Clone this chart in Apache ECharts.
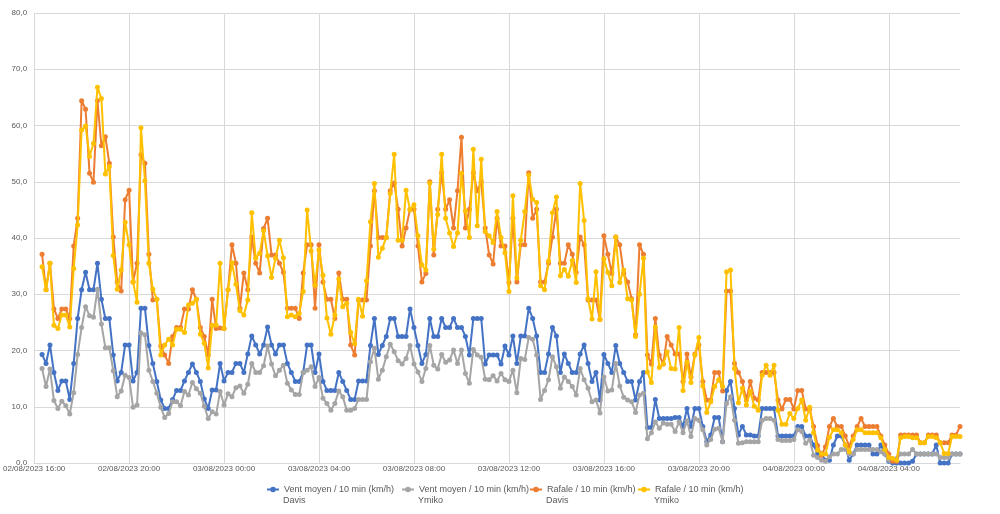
<!DOCTYPE html>
<html><head><meta charset="utf-8">
<script src="https://cdn.jsdelivr.net/npm/echarts@6/dist/echarts.min.js"></script>
<style>html,body{margin:0;padding:0;background:#fff}#c{width:1000px;height:514px}</style>
</head><body><div id="c"></div>
<script>
// Time axis: 10-minute categories from 02/08/2023 16:00 to 04/08/2023 07:00
const categoryCount = 235;
const firstDataIndex = 2; // first measurement at 16:20
const seriesNames = [
  'Vent moyen / 10 min (km/h)\nDavis',
  'Vent moyen / 10 min (km/h)\nYmiko',
  'Rafale / 10 min (km/h)\nDavis',
  'Rafale / 10 min (km/h)\nYmiko'
];
const seriesColors = ['#4472C4', '#A5A5A5', '#ED7D31', '#FFC000'];
const yTicks = [0, 10, 20, 30, 40, 50, 60, 70, 80];

const ventDavis = [
  19.3,17.7,21.0,16.1,12.9,14.6,14.6,11.3,17.7,25.7,30.8,33.9,30.8,30.8,35.5,29.1,25.7,25.7,
  19.2,14.6,16.1,21.0,21.0,14.6,16.1,27.5,27.5,20.9,17.7,14.5,11.2,9.7,9.7,11.3,12.9,12.9,14.6,16.1,
  17.6,16.1,14.5,11.4,9.7,13.0,13.0,17.7,14.6,16.1,16.1,17.7,17.7,16.1,19.4,22.6,21.0,19.4,21.0,
  24.2,21.0,19.4,21.0,21.0,17.7,16.1,14.5,14.5,16.1,21.0,21.0,16.1,19.4,14.5,12.9,12.9,12.9,16.1,14.5,12.9,11.3,
  11.3,14.6,14.6,14.6,
  20.9,25.7,19.3,20.9,22.5,25.7,25.7,22.5,22.5,22.5,27.4,24.1,20.9,17.7,19.3,25.7,
  22.5,22.5,25.7,24.1,24.1,25.7,24.1,24.1,22.5,19.2,25.7,25.7,25.7,17.6,19.2,19.2,19.2,17.6,20.8,19.2,
  22.6,17.7,22.6,22.6,27.5,25.7,22.6,16.1,16.1,19.4,24.1,22.6,16.1,19.4,17.7,16.1,16.1,19.4,21.0,17.7,
  14.5,16.1,11.2,19.3,17.7,16.1,20.9,17.7,16.1,14.5,14.5,11.2,14.5,16.1,6.3,6.3,11.3,7.9,7.9,7.9,7.9,
  8.1,8.1,6.5,9.7,6.5,9.7,9.7,6.5,3.8,5.0,8.1,8.1,3.8,12.9,14.5,9.7,5.0,6.5,5.0,5.0,
  4.8,4.8,9.7,9.7,9.7,9.7,4.8,4.8,4.8,4.8,4.8,6.5,6.5,4.8,4.8,3.2,1.6,1.6,0.5,0.5,
  3.2,4.8,4.8,3.2,0.5,1.6,3.2,3.2,3.2,3.2,1.6,1.6,3.2,1.6,0.3,0,0,
  0,0,0,0.3,1.6,1.6,1.6,1.6,1.6,3.2,0,0,0,1.6,1.6,1.6
];
const ventYmiko = [
  16.8,13.6,16.7,11.1,9.7,11.0,10.2,8.7,12.5,19.3,24.1,27.8,26.2,25.9,30.9,24.7,20.5,20.5,
  16.4,11.8,12.8,15.6,15.2,9.9,10.3,23.1,22.8,16.5,14.5,12.4,9.9,8.1,8.8,10.9,10.9,10.2,12.7,12.1,
  14.3,13.2,12.4,10.1,7.9,9.1,8.7,12.7,10.3,12.3,11.8,13.4,13.7,12.4,14.0,17.7,16.1,16.1,17.3,
  20.8,17.6,15.5,16.5,17.4,14.2,13.0,12.2,12.2,16.1,16.5,17.1,13.6,15.2,11.5,10.6,9.4,10.6,12.8,11.8,9.4,
  9.4,9.7,11.3,11.3,11.3,
  18.0,20.4,14.9,16.5,18.9,21.1,19.8,18.2,17.6,18.6,20.9,17.6,16.2,14.5,16.8,20.9,
  17.4,16.7,19.3,17.9,18.3,20.1,17.7,20.1,15.9,14.2,20.2,19.2,18.8,14.9,14.8,15.5,14.6,15.9,14.8,14.5,
  16.5,12.5,18.6,18.4,22.3,22.0,19.2,11.3,12.9,14.8,18.9,17.1,13.3,15.3,14.5,13.6,12.1,16.8,14.8,13.3,
  10.9,11.2,8.9,15.3,12.8,13.0,17.7,13.7,11.7,11.2,10.9,9.0,12.1,12.4,4.3,5.4,7.3,6.2,7.1,6.9,6.9,
  5.6,7.3,5.4,7.5,4.7,7.9,7.6,5.9,3.2,4.2,6.0,6.2,3.8,10.6,11.8,7.6,3.5,3.6,3.8,3.8,
  3.8,3.8,7.6,7.9,7.9,7.6,4.2,4.0,4.0,4.0,4.2,5.9,5.6,3.5,4.1,1.4,1.0,0.5,0.3,1.1,
  1.6,1.6,2.4,2.4,1.6,1.6,2.4,2.4,2.4,2.4,2.4,2.4,2.0,1.6,0.5,0.5,0.8,
  1.6,1.6,1.6,2.4,1.6,1.6,1.6,1.6,1.6,1.6,1.0,1.0,1.0,1.6,1.6,1.6
];
const rafaleDavis = [
  37.1,30.8,35.5,27.4,25.7,27.4,27.4,25.7,38.6,43.5,64.4,62.9,51.5,49.9,64.4,56.4,58.0,53.3,
  40.2,32.2,30.6,46.8,48.5,32.2,35.5,54.8,53.3,37.1,29.0,29.1,20.8,19.2,17.7,22.5,24.1,24.1,27.4,27.4,
  30.8,29.1,24.1,22.5,19.2,29.1,23.9,24.0,23.9,30.8,38.8,35.5,27.5,33.8,30.8,40.2,35.5,33.8,41.7,
  43.5,37.0,37.0,35.5,33.9,27.5,27.5,27.5,25.7,33.8,38.8,38.8,27.5,38.8,32.2,29.1,29.1,25.7,33.8,29.1,29.1,21.0,
  19.2,29.0,29.0,29.0,38.6,48.4,40.1,40.1,40.1,48.4,49.8,45.1,38.6,41.8,45.1,45.1,38.6,32.2,33.7,50.0,
  37.0,45.1,51.6,45.1,46.8,41.8,48.4,57.9,41.8,45.1,51.6,48.4,50.0,41.8,37.0,35.4,43.5,38.6,38.6,32.1,
  43.5,32.2,38.8,38.8,51.6,43.5,45.1,32.2,32.2,35.5,40.2,45.1,35.5,35.5,38.8,37.1,33.9,40.2,38.8,29.0,
  29.0,29.0,25.5,40.4,37.1,33.7,40.2,38.8,33.7,32.2,29.2,22.8,38.8,37.1,19.2,17.6,25.7,19.2,17.6,22.5,21.0,
  19.4,19.4,14.5,19.4,15.3,19.4,21.0,14.5,11.2,11.2,16.1,16.1,12.8,30.6,30.6,17.7,16.1,14.5,11.2,14.5,
  11.5,11.2,16.1,16.1,16.1,16.1,11.2,9.6,11.3,11.3,9.6,12.9,12.9,9.6,9.6,6.5,3.1,1.4,2.9,6.5,
  7.9,6.5,6.5,4.8,3.0,4.8,6.5,7.9,6.5,6.5,6.5,6.5,4.8,3.2,1.6,0.3,0.3,
  5.0,5.0,5.0,5.0,5.0,3.6,3.6,5.0,5.0,5.0,3.6,3.6,3.6,5.0,5.0,6.5
];
const rafaleYmiko = [
  34.9,30.8,35.5,24.5,23.9,26.3,26.3,24.2,34.6,42.3,59.2,59.9,54.5,56.8,66.8,64.8,51.4,52.7,
  36.9,30.9,34.3,42.8,38.8,32.2,28.6,59.6,50.2,35.5,30.9,29.1,19.2,21.0,22.0,21.0,23.8,23.8,23.2,28.1,
  28.4,29.1,22.9,21.3,16.9,24.5,24.5,35.5,23.9,30.8,35.6,31.8,27.1,26.3,29.0,44.5,36.4,37.3,41.3,
  36.8,33.0,36.4,39.6,36.5,26.0,26.3,26.0,26.6,30.5,45.0,37.7,31.6,37.9,33.4,25.8,22.9,26.3,32.7,27.8,28.4,23.2,
  21.2,29.1,26.1,32.4,42.9,49.7,36.6,38.2,40.1,47.9,54.9,39.6,39.6,48.5,45.0,45.9,40.4,35.2,34.3,49.8,
  38.0,44.2,54.9,43.5,40.9,38.5,40.9,51.5,44.8,40.1,55.8,42.2,54.0,41.1,40.4,39.2,44.7,40.1,37.4,30.5,
  47.5,32.9,39.6,44.7,51.2,46.9,46.3,31.5,30.8,35.9,44.5,47.3,33.3,34.4,33.2,36.0,32.1,49.7,43.1,29.2,
  25.6,34.0,25.5,36.3,33.9,31.5,40.2,32.1,34.3,29.2,29.0,22.5,30.0,36.4,16.2,14.3,24.2,17.0,17.6,19.8,16.8,
  16.7,24.1,12.9,17.9,14.3,19.2,22.3,13.7,9.0,10.9,13.6,14.8,13.6,34.0,34.3,16.8,10.7,13.3,10.3,12.7,
  10.1,9.4,15.6,17.4,15.6,17.4,9.4,6.9,6.9,8.8,7.9,9.7,11.2,7.6,9.9,5.4,2.3,1.6,1.6,4.6,
  5.9,5.9,5.4,3.2,2.0,4.2,5.9,5.9,5.4,5.4,5.4,5.4,4.5,2.4,1.0,0.8,0.5,
  4.5,4.7,4.7,4.5,4.5,3.6,3.6,4.7,4.7,4.5,3.6,1.7,1.7,4.7,4.7,4.7
];

function pad(n){ return (n < 10 ? '0' : '') + n; }
const categories = [];
for (let i = 0; i < categoryCount; i++) {
  const d = new Date(2023, 7, 2, 16, 10 * i);
  categories.push(pad(d.getDate()) + '/' + pad(d.getMonth() + 1) + '/' + d.getFullYear() + ' ' +
    pad(d.getHours()) + ':' + pad(d.getMinutes()));
}
function withOffset(arr){
  const out = [];
  for (let i = 0; i < firstDataIndex; i++) out.push(null);
  return out.concat(arr);
}
const allSeries = [ventDavis, ventYmiko, rafaleDavis, rafaleYmiko];

// legend layout (text left edges of each entry)
const legendTextLeft = [283, 418, 546, 654];
const legendTop = 485;
const FONT = 'Liberation Sans, Arial, sans-serif';

const chart = echarts.init(document.getElementById('c'), null, {renderer: 'canvas'});
chart.setOption({
  animation: false,
  backgroundColor: '#ffffff',
  grid: {left: 32, right: 40, top: 13, bottom: 51, containLabel: false},
  legend: seriesNames.map((n, k) => ({
    data: [n],
    left: legendTextLeft[k] - 17,
    top: legendTop,
    itemWidth: 12,
    itemHeight: 7,
    padding: 0,
    formatter: name => name.split('\n')[0],
    textStyle: {color: '#595959', fontSize: 9, fontFamily: FONT}
  })),
  graphic: seriesNames.map((n, k) => ({
    type: 'text',
    left: legendTextLeft[k],
    top: legendTop + 11,
    silent: true,
    style: {text: n.split('\n')[1], fill: '#595959', fontSize: 9, fontFamily: FONT}
  })),
  xAxis: {
    type: 'category',
    data: categories,
    boundaryGap: false,
    axisLine: {show: true, lineStyle: {color: '#D9D9D9'}},
    axisTick: {show: false},
    axisLabel: {interval: 23, color: '#595959', fontSize: 8, fontFamily: FONT, margin: 2},
    splitLine: {show: true, interval: 23, lineStyle: {color: '#D9D9D9', width: 1}}
  },
  yAxis: {
    type: 'value',
    min: yTicks[0],
    max: yTicks[yTicks.length - 1],
    interval: 10,
    axisLine: {show: false},
    axisTick: {show: false},
    axisLabel: {color: '#595959', fontSize: 8, fontFamily: FONT, margin: 7,
      formatter: v => v.toFixed(1).replace('.', ',')},
    splitLine: {show: true, lineStyle: {color: '#D9D9D9', width: 1}}
  },
  series: allSeries.map((arr, k) => ({
    name: seriesNames[k],
    type: 'line',
    data: withOffset(arr),
    symbol: 'circle',
    symbolSize: 5,
    showAllSymbol: true,
    color: seriesColors[k],
    itemStyle: {color: seriesColors[k]},
    lineStyle: {color: seriesColors[k], width: 2},
    z: 2 + k
  }))
});
</script></body></html>
